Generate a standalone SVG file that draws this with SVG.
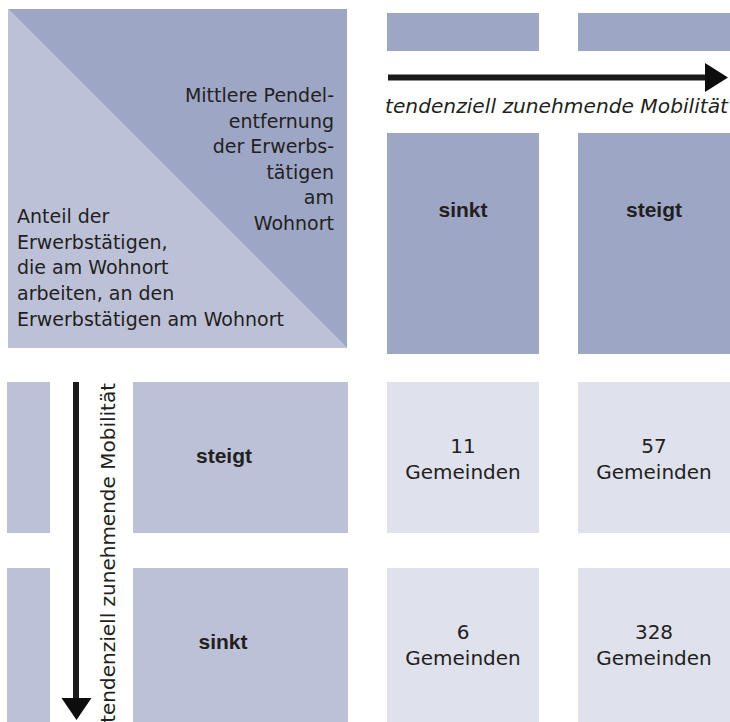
<svg xmlns="http://www.w3.org/2000/svg" width="730" height="722" viewBox="0 0 730 722">
<style>
  text { font-family: "DejaVu Sans", "Liberation Sans", sans-serif; fill: #231f20; }
  .lbl { font-size: 19px; }
  .cell { font-size: 20px; text-anchor: middle; }
  .hdr { font-family: "Liberation Sans", Arial, sans-serif; font-size: 21px; font-weight: bold; text-anchor: middle; }
  .axis { font-size: 20px; font-style: italic; }
  .dark { fill: #9ea6c6; }
  .mid { fill: #bcc1d8; }
  .light { fill: #dfe1ec; }
  .shaft { stroke: #1a1a1a; stroke-width: 6; fill: none; }
  .head { fill: #0d0d0d; }
</style>
<rect width="730" height="722" fill="#ffffff"/>

<g id="legend">
  <polygon class="mid" points="8,9 8,348 347,348"/>
  <polygon class="dark" points="8,9 347,9 347,348"/>
  <g text-anchor="end" class="lbl">
    <text class="lbl" x="334" y="102">Mittlere Pendel-</text>
    <text class="lbl" x="334" y="127.5">entfernung</text>
    <text class="lbl" x="334" y="153">der Erwerbs-</text>
    <text class="lbl" x="334" y="178.5">tätigen</text>
    <text class="lbl" x="334" y="204">am</text>
    <text class="lbl" x="334" y="229.5">Wohnort</text>
  </g>
  <text class="lbl" x="17" y="223">Anteil der</text>
  <text class="lbl" x="17" y="248.7">Erwerbstätigen,</text>
  <text class="lbl" x="17" y="274.4">die am Wohnort</text>
  <text class="lbl" x="17" y="300">arbeiten, an den</text>
  <text class="lbl" x="17" y="325.7">Erwerbstätigen am Wohnort</text>
</g>

<g id="col-bars">
  <rect class="dark" x="387" y="13" width="152" height="38"/>
  <rect class="dark" x="578" y="13" width="152" height="38"/>
</g>

<g id="col-sinkt">
  <rect class="dark" x="387" y="133" width="152" height="221"/>
  <text class="hdr" x="463" y="217">sinkt</text>
</g>
<g id="col-steigt">
  <rect class="dark" x="578" y="133" width="152" height="221"/>
  <text class="hdr" x="654" y="217">steigt</text>
</g>

<g id="row-strips">
  <rect class="mid" x="7" y="382" width="43" height="151"/>
  <rect class="mid" x="7" y="568" width="43" height="154"/>
</g>

<g id="row-steigt">
  <rect class="mid" x="133" y="382" width="215" height="151"/>
  <text class="hdr" x="224" y="463">steigt</text>
</g>
<g id="row-sinkt">
  <rect class="mid" x="133" y="568" width="215" height="154"/>
  <text class="hdr" x="223" y="649">sinkt</text>
</g>

<g id="cell-11">
  <rect class="light" x="387" y="382" width="152" height="151"/>
  <text class="cell" x="463" y="453">11</text>
  <text class="cell" x="463" y="479">Gemeinden</text>
</g>
<g id="cell-57">
  <rect class="light" x="578" y="382" width="152" height="151"/>
  <text class="cell" x="654" y="453">57</text>
  <text class="cell" x="654" y="479">Gemeinden</text>
</g>
<g id="cell-6">
  <rect class="light" x="387" y="568" width="152" height="154"/>
  <text class="cell" x="463" y="639">6</text>
  <text class="cell" x="463" y="665">Gemeinden</text>
</g>
<g id="cell-328">
  <rect class="light" x="578" y="568" width="152" height="154"/>
  <text class="cell" x="654" y="639">328</text>
  <text class="cell" x="654" y="665">Gemeinden</text>
</g>

<g id="connectors">
  <line class="shaft" x1="388" y1="77.5" x2="707" y2="77.5"/>
  <polygon class="head" points="705,63 728,77.5 705,92"/>
  <line class="shaft" x1="76" y1="382" x2="76" y2="700" stroke-width="5"/>
  <polygon class="head" points="61.5,698 91.5,698 76.5,720"/>
</g>

<g id="axis-labels">
  <text class="axis" x="385" y="112.5" textLength="343" lengthAdjust="spacingAndGlyphs">tendenziell zunehmende Mobilität</text>
  <text class="axis" style="font-style: normal;" text-anchor="end" transform="translate(115,383) rotate(-90)">tendenziell zunehmende Mobilität</text>
</g>
</svg>
